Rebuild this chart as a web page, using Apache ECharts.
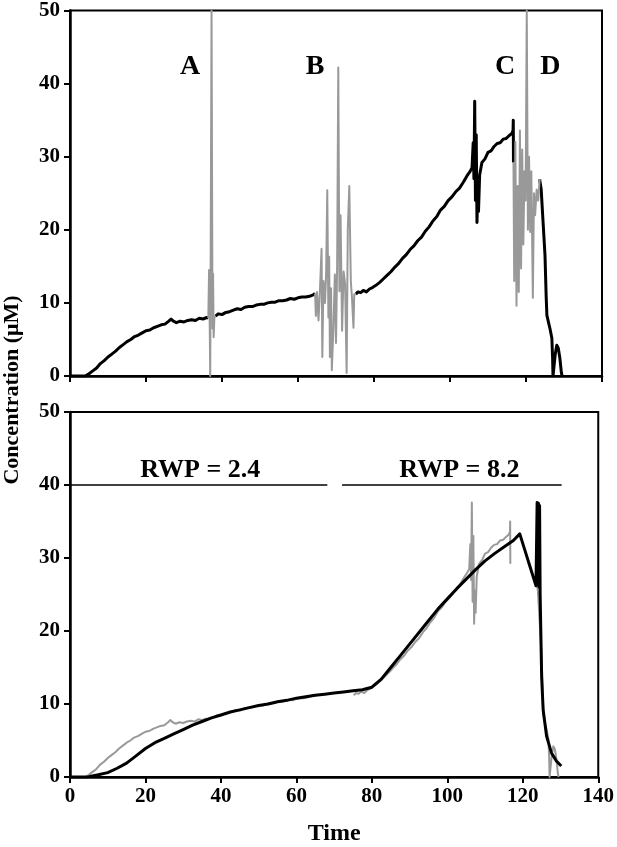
<!DOCTYPE html>
<html>
<head>
<meta charset="utf-8">
<script src="https://cdn.jsdelivr.net/npm/echarts@6/dist/echarts.min.js"></script>
<style>
html,body{margin:0;padding:0;background:#fff;}
#chart{width:617px;height:847px;}
</style>
</head>
<body>
<div id="chart"></div>
<script>
// ---- Data (time, concentration µM) ----
// measured trace (top panel black, bottom panel grey); null = gap
const measured = [
  [0,0],[1,0],[2,0],[3,0],[4,0],[5,0.3],[6,0.7],[7,1.1],[8,1.7],[9,2.1],[10,2.6],[11,3.0],[12,3.4],[13,3.9],[14,4.3],[15,4.7],[16,5.0],[17,5.4],[18,5.6],[19,5.9],[20,6.2],[21,6.3],[22,6.6],[23,6.8],[24,7.0],[25,7.1],[26,7.5],[26.6,7.8],[27.2,7.5],[28,7.3],[29,7.5],[30,7.4],[31,7.6],[32,7.7],[33,7.6],[34,7.9],[35,7.8],[36,8.0],[36.4,7.9],
  [37.0,null],
  [38.3,8.2],[39,8.5],[40,8.4],[41,8.7],[42,8.8],[43,9.0],[44,9.2],[45,9.1],[46,9.4],[47,9.5],[48,9.5],[49,9.7],[50,9.8],[51,9.8],[52,10.0],[53,10.1],[54,10.1],[55,10.3],[56,10.3],[57,10.4],[58,10.6],[59,10.5],[60,10.7],[61,10.8],[62,10.8],[63,10.9],[64,11.1],[64.5,11.3],
  [70,null],
  [75.2,11.2],[75.8,11.5],[76.5,11.4],[77.2,11.7],[78,11.5],[78.8,11.9],[79.6,12.1],[80.5,12.4],[81.5,12.8],[82.5,13.3],[83.5,13.8],[84.5,14.3],[85.5,14.9],[86.5,15.4],[87.5,16.1],[88.5,16.6],[89.5,17.3],[90.5,17.8],[91.5,18.5],[92.5,19.0],[93.5,19.8],[94.5,20.4],[95.5,21.2],[96.5,21.8],[97.5,22.7],[98.5,23.2],[99.5,24.0],[100.5,24.5],[101.5,25.2],[102.5,25.7],[103.5,26.5],[104.5,27.4],[105.3,28.0],[105.8,28.5],[106.1,31.9],[106.3,27],[106.5,37.6],[106.7,24],[106.9,33],[107.1,21],[107.3,25.5],[107.5,22.5],[107.8,27.5],[108.4,29.2],[109.2,29.7],[110,30.6],[110.8,30.8],[111.6,31.4],[112.4,31.8],[113.2,31.9],[114,32.4],[114.8,32.5],[115.6,32.9],[116.3,33.2],[116.6,33.6],[116.65,35.0],[116.7,29.2],
  [120,null],
  [123.6,26.9],[124.0,25.5],[124.5,21],[125,16.5],[125.3,11],[125.5,8.3],[125.8,7.6],[126.3,6.5],[126.8,5.2],[127.0,2.5],[127.1,0],[127.4,0],[127.7,3.0],[128.1,4.2],[128.5,3.8],[128.9,2.5],[129.3,0.5],[129.5,0]
];
// artifact regions (grey, top panel)
const artifactA = [[36.4,7.9],[36.6,14.5],[36.8,5.5],[36.9,0],[37.1,28],[37.25,50],[37.4,50],[37.5,6.5],[37.65,14],[37.8,5.3],[38.0,8.0],[38.3,8.2]];
const artifactB = [[64.5,11.3],[64.7,8.2],[65.0,11.5],[65.4,7.6],[65.8,12],[66.2,17.4],[66.4,2.6],[66.7,13],[67.1,10],[67.4,14],[67.7,25.4],[68.0,8],[68.2,16.3],[68.4,2.6],[68.7,12],[68.9,0.8],[69.3,6.2],[69.7,13.9],[70.0,4.5],[70.3,15],[70.6,42.2],[70.9,11.6],[71.2,22],[71.6,6.2],[72.0,14.3],[72.4,12.6],[72.8,0.4],[73.1,20],[73.5,26],[73.9,13],[74.2,10.7],[74.6,6.6],[74.8,11.2],[75.2,11.2]];
const artifactC = [[116.7,29.2],[116.9,13],[117.2,32],[117.5,9.6],[117.8,26],[118.1,11.5],[118.4,33.6],[118.7,14.7],[119.0,31],[119.3,18],[119.6,28],[119.9,24],[120.2,50],[120.35,50],[120.5,20],[120.8,30],[121.1,19.7],[121.4,28],[121.8,10.7],[122.1,25],[122.4,22],[122.8,25.5],[123.2,24],[123.6,26.9]];
// model fit (bottom panel black)
const model = [[0,0],[2.5,0],[5,0.05],[7.5,0.3],[10,0.6],[12.5,1.2],[15,1.9],[17.5,2.9],[20,3.9],[22.5,4.7],[25,5.3],[27.5,5.9],[30,6.5],[32.5,7.1],[35,7.6],[37.5,8.1],[40,8.5],[42.5,8.9],[45,9.2],[47.5,9.5],[50,9.8],[52.5,10.0],[55,10.3],[57.5,10.5],[60,10.8],[62.5,11.0],[65,11.2],[67.5,11.35],[70,11.5],[72.5,11.65],[75,11.8],[77.5,11.95],[80,12.3],[82.5,13.4],[85,15.0],[87.5,16.6],[90,18.2],[92.5,19.8],[95,21.4],[97.5,23.0],[100,24.4],[102.5,25.8],[105,27.1],[107.5,28.4],[110,29.6],[112.5,30.6],[115,31.5],[117.5,32.4],[119.2,33.3],[123.5,26.2],[123.8,37.6],[124.0,27],[124.15,37.5],[124.3,26],[124.45,37.2],[124.6,25],[125,13.7],[125.4,9.2],[126.3,5.6],[127.6,3.3],[128.9,2.2],[130.2,1.5]];
// RWP segments (bottom panel)
const rwpSeg1 = [[0,40],[68.2,40]];
const rwpSeg2 = [[72.1,40],[130.3,40]];
const rwpLabels = [{t:34.5, c:42.0, text:'RWP = 2.4'},{t:103.2, c:42.0, text:'RWP = 8.2'}];
const regionLabels = [{t:31.6, c:42.3, text:'A'},{t:64.5, c:42.3, text:'B'},{t:114.5, c:42.3, text:'C'},{t:126.4, c:42.3, text:'D'}];
const xTicks = {min:0, max:140, interval:20};
const yTicks = {min:0, max:50, interval:10};

const FONT = '"Liberation Serif", "Times New Roman", serif';
const clean = arr => arr.map(p => [p[0], p[1] === null ? '-' : p[1]]);

function xAxis(gridIndex, showLabels, name) {
  return {
    type:'value', gridIndex, min:xTicks.min, max:xTicks.max, interval:xTicks.interval,
    axisLine:{show:true, onZero:false, lineStyle:{color:'#000', width:2.5}},
    axisTick:{show:true, inside:false, length:6, lineStyle:{color:'#000', width:2}},
    axisLabel:{show:showLabels, color:'#000', fontFamily:FONT, fontWeight:'bold', fontSize:21, margin:9},
    splitLine:{show:false},
    name: name || '', nameLocation:'middle', nameGap:45,
    nameTextStyle:{color:'#000', fontFamily:FONT, fontWeight:'bold', fontSize:24}
  };
}
function yAxis(gridIndex) {
  return {
    type:'value', gridIndex, min:yTicks.min, max:yTicks.max, interval:yTicks.interval,
    axisLine:{show:true, onZero:false, lineStyle:{color:'#000', width:2.5}},
    axisTick:{show:true, inside:false, length:6, lineStyle:{color:'#000', width:2}},
    axisLabel:{color:'#000', fontFamily:FONT, fontWeight:'bold', fontSize:21, margin:10},
    splitLine:{show:false}
  };
}
function lineSeries(data, color, width, xi, z) {
  return {type:'line', xAxisIndex:xi, yAxisIndex:xi, data:clean(data), showSymbol:false, symbol:'none',
    lineStyle:{color, width, join:'round'}, connectNulls:false, clip:true, animation:false, z};
}

const chart = echarts.init(document.getElementById('chart'), null, {renderer:'canvas'});
chart.setOption({
  backgroundColor:'#fff',
  animation:false,
  grid:[
    {left:70, top:6, width:532, height:370, show:true, borderColor:'#000', borderWidth:2, backgroundColor:'transparent'},
    {left:70, top:412, width:532, height:369, show:true, borderColor:'#000', borderWidth:2, backgroundColor:'transparent'}
  ],
  xAxis:[xAxis(0,false), xAxis(1,true,'Time')],
  yAxis:[yAxis(0), yAxis(1)],
  series:[
    lineSeries(measured, '#000', 3, 0, 2),
    lineSeries(artifactA, '#999', 2, 0, 3),
    lineSeries(artifactB, '#999', 2, 0, 3),
    lineSeries(artifactC, '#999', 2, 0, 3),
    lineSeries(measured, '#999', 2, 1, 2),
    lineSeries(model, '#000', 3, 1, 3),
    lineSeries(rwpSeg1, '#000', 1.5, 1, 3),
    lineSeries(rwpSeg2, '#000', 1.5, 1, 3)
  ]
});

// text annotations placed through the axes' own scales
function textAt(gridIndex, t, c, text, size) {
  const p = chart.convertToPixel({gridIndex}, [t, c]);
  return {type:'text', x:p[0], y:p[1], z:100,
    style:{text, fill:'#000', font:'bold ' + size + 'px ' + FONT, textAlign:'center', textVerticalAlign:'middle'}};
}
const graphics = [];
regionLabels.forEach(o => graphics.push(textAt(0, o.t, o.c, o.text, 28)));
rwpLabels.forEach(o => graphics.push(textAt(1, o.t, o.c, o.text, 26)));
graphics.push({type:'text', x:12, y:390, rotation:Math.PI/2, z:100,
  style:{text:'Concentration (μM)', fill:'#000', font:'bold 22px ' + FONT, textAlign:'center', textVerticalAlign:'middle'}});
chart.setOption({graphic:graphics});
</script>
</body>
</html>
